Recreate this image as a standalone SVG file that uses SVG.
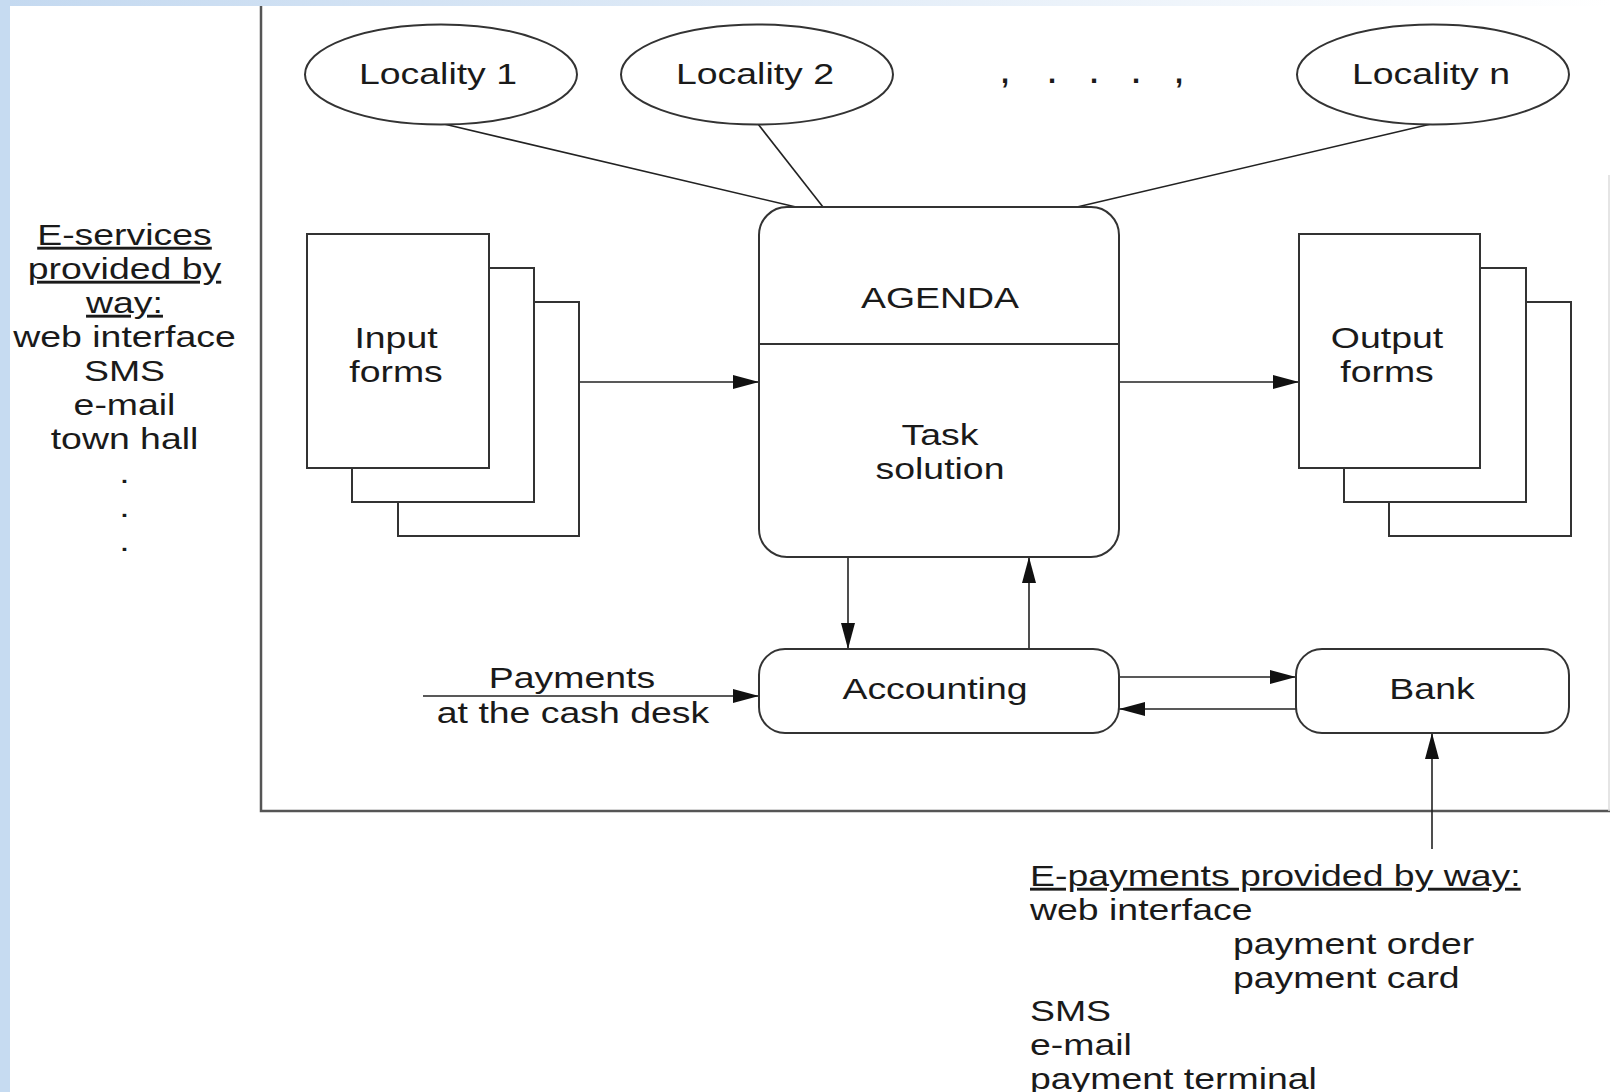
<svg xmlns="http://www.w3.org/2000/svg" width="1610" height="1092" viewBox="0 0 1610 1092">
<style>
.t{font-family:"Liberation Sans",Arial,sans-serif;font-size:29px;fill:#1a1a1a}
.m{text-anchor:middle}
.u{text-decoration:underline}
.s{fill:#fff;stroke:#333;stroke-width:2}
.c{fill:none;stroke:#222;stroke-width:1.6}
.a{marker-end:url(#ah)}
.f{fill:none;stroke:#555;stroke-width:2.5}
</style>
<defs>
<linearGradient id="tg" x1="0" y1="0" x2="1" y2="0">
<stop offset="0" stop-color="#c4d9f0"/>
<stop offset="1" stop-color="#ffffff"/>
</linearGradient>
<marker id="ah" markerUnits="userSpaceOnUse" markerWidth="28" markerHeight="16" refX="26" refY="7" orient="auto">
<path d="M0,0 L26,7 L0,14 z" fill="#111"/>
</marker>
</defs>
<rect x="0" y="0" width="1610" height="1092" fill="#fff"/>
<rect x="0" y="0" width="1610" height="6" fill="url(#tg)"/>
<rect x="0" y="0" width="10" height="1092" fill="#c6dbf1"/>

<g id="frame">
<path class="f" d="M261,6 V811 H1610"/>
<line x1="1609" y1="175" x2="1609" y2="811" stroke="#ddd" stroke-width="1.5"/>
</g>

<g id="connectors">
<line class="c" x1="444" y1="124" x2="796" y2="207"/>
<line class="c" x1="758" y1="124" x2="823" y2="207"/>
<line class="c" x1="1431" y1="124" x2="1077" y2="207"/>
<line class="c a" x1="579" y1="382" x2="759" y2="382"/>
<line class="c a" x1="1119" y1="382" x2="1299" y2="382"/>
<line class="c a" x1="848" y1="557" x2="848" y2="649"/>
<line class="c a" x1="1029" y1="649" x2="1029" y2="557"/>
<line class="c a" x1="423" y1="696" x2="759" y2="696"/>
<line class="c a" x1="1119" y1="677" x2="1296" y2="677"/>
<line class="c a" x1="1296" y1="709" x2="1119" y2="709"/>
<line class="c a" x1="1432" y1="849" x2="1432" y2="733"/>
</g>

<g id="locality1">
<ellipse class="s" cx="441" cy="74.5" rx="136" ry="50"/>
<text class="t m" transform="translate(438,84) scale(1.29,1)">Locality 1</text>
</g>
<g id="locality2">
<ellipse class="s" cx="757" cy="74.5" rx="136" ry="50"/>
<text class="t m" transform="translate(755,84) scale(1.29,1)">Locality 2</text>
</g>
<g id="ellipsis">
<text class="t" x="1001 1048 1090 1132 1175" y="83" style="font-weight:bold">,...,</text>
</g>
<g id="localityn">
<ellipse class="s" cx="1433" cy="74.5" rx="136" ry="50"/>
<text class="t m" transform="translate(1431,84) scale(1.29,1)">Locality n</text>
</g>

<g id="agenda">
<rect class="s" x="759" y="207" width="360" height="350" rx="28"/>
<line x1="759" y1="344" x2="1119" y2="344" stroke="#333" stroke-width="2"/>
<text class="t m" transform="translate(940,308) scale(1.29,1)">AGENDA</text>
<text class="t m" transform="translate(940,445) scale(1.29,1)">Task</text>
<text class="t m" transform="translate(940,479) scale(1.29,1)">solution</text>
</g>

<g id="input-forms">
<path class="s" d="M534,302 H579 V536 H398 V502"/>
<path class="s" d="M489,268 H534 V502 H352 V468"/>
<rect class="s" x="307" y="234" width="182" height="234"/>
<text class="t m" transform="translate(396,348) scale(1.29,1)">Input</text>
<text class="t m" transform="translate(396,382) scale(1.29,1)">forms</text>
</g>

<g id="output-forms">
<path class="s" d="M1526,302 H1571 V536 H1389 V502"/>
<path class="s" d="M1480,268 H1526 V502 H1344 V468"/>
<rect class="s" x="1299" y="234" width="181" height="234"/>
<text class="t m" transform="translate(1387,348) scale(1.29,1)">Output</text>
<text class="t m" transform="translate(1387,382) scale(1.29,1)">forms</text>
</g>

<g id="accounting">
<rect class="s" x="759" y="649" width="360" height="84" rx="26"/>
<text class="t m" transform="translate(935,699) scale(1.29,1)">Accounting</text>
</g>

<g id="bank">
<rect class="s" x="1296" y="649" width="273" height="84" rx="26"/>
<text class="t m" transform="translate(1432,699) scale(1.29,1)">Bank</text>
</g>

<g id="payments-label">
<text class="t m" transform="translate(572,688) scale(1.29,1)">Payments</text>
<text class="t m" transform="translate(573,723) scale(1.29,1)">at the cash desk</text>
</g>

<g id="e-services">
<text class="t m u" transform="translate(124.5,245) scale(1.29,1)">E-services</text>
<text class="t m u" transform="translate(124.5,279) scale(1.29,1)">provided by</text>
<text class="t m u" transform="translate(124.5,313) scale(1.29,1)">way:</text>
<text class="t m" transform="translate(124.5,347) scale(1.29,1)">web interface</text>
<text class="t m" transform="translate(124.5,381) scale(1.29,1)">SMS</text>
<text class="t m" transform="translate(124.5,415) scale(1.29,1)">e-mail</text>
<text class="t m" transform="translate(124.5,449) scale(1.29,1)">town hall</text>
<text class="t m" transform="translate(124.5,483) scale(1.29,1)">.</text>
<text class="t m" transform="translate(124.5,517) scale(1.29,1)">.</text>
<text class="t m" transform="translate(124.5,551) scale(1.29,1)">.</text>
</g>

<g id="e-payments">
<text class="t u" transform="translate(1030,886) scale(1.29,1)">E-payments provided by way:</text>
<text class="t" transform="translate(1030,920) scale(1.29,1)">web interface</text>
<text class="t" transform="translate(1233,954) scale(1.29,1)">payment order</text>
<text class="t" transform="translate(1233,988) scale(1.29,1)">payment card</text>
<text class="t" transform="translate(1030,1021) scale(1.29,1)">SMS</text>
<text class="t" transform="translate(1030,1055) scale(1.29,1)">e-mail</text>
<text class="t" transform="translate(1030,1089) scale(1.29,1)">payment terminal</text>
</g>
</svg>
